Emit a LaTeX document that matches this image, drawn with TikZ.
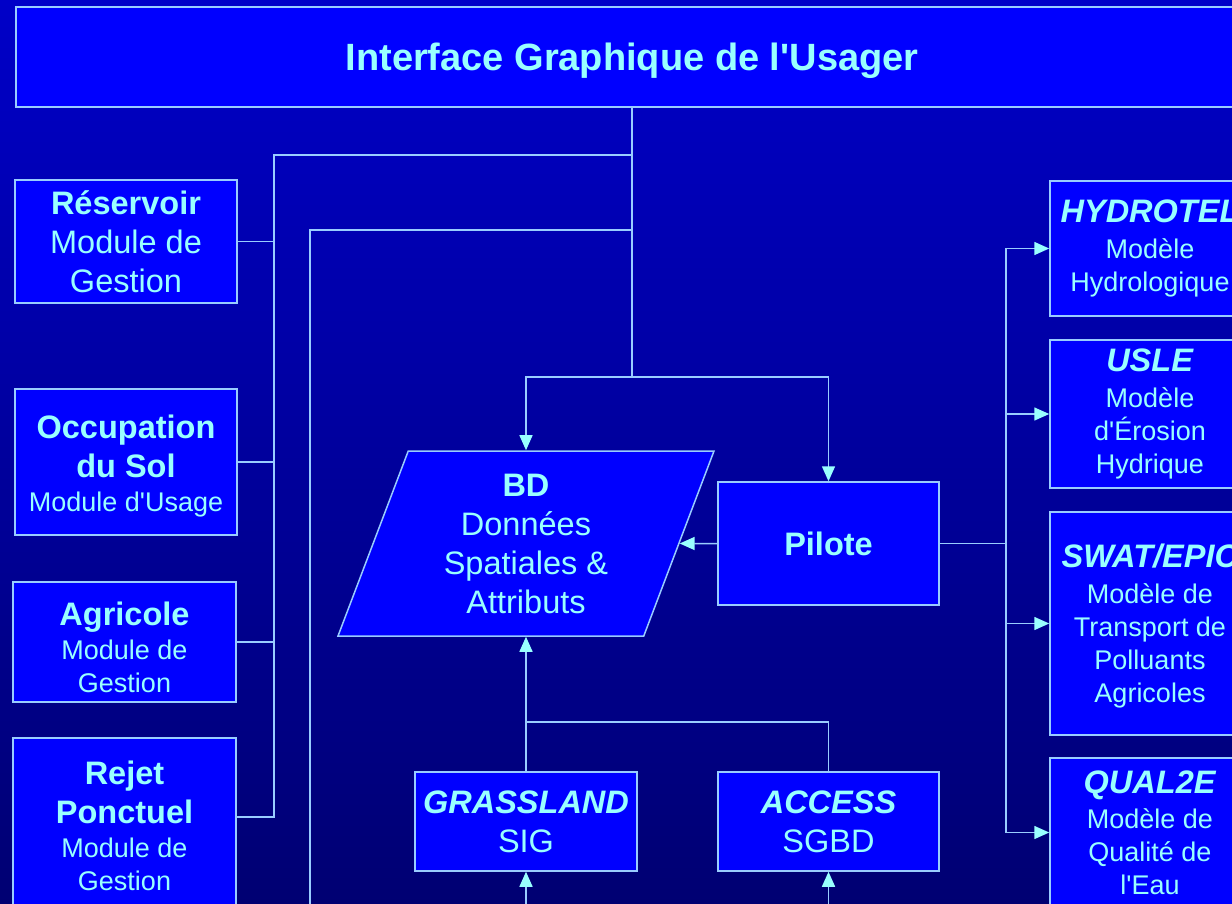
\documentclass[tikz,border=0pt]{standalone}
\usepackage{fontspec}
\setmainfont{Liberation Sans}
\usetikzlibrary{arrows.meta, shapes.geometric}
\definecolor{cbgtop}{HTML}{0000C8}
\definecolor{cbgbot}{HTML}{000072}
\definecolor{cbox}{HTML}{0000FF}
\definecolor{cline}{HTML}{99CCFF}
\definecolor{ccyan}{HTML}{99FFFF}
\newcommand{\ttlsize}{\fontsize{38}{46}\selectfont}
\newcommand{\hdsize}{\fontsize{32.5}{39}\selectfont}
\newcommand{\bdsize}{\fontsize{27}{32.4}\selectfont}
\newcommand{\padtop}[1]{\rule{0pt}{#1}}
\tikzset{
  every picture/.style={x=1pt, y=-1pt, line width=1.5pt},
  box/.style={draw=cline, fill=cbox, text=ccyan, align=center, inner sep=0pt, font=\hdsize},
  link/.style={draw=cline},
  arrow/.style={draw=cline, -{Triangle[length=15pt, width=13pt, color=ccyan]}},
}

\begin{document}
\begin{tikzpicture}
  \useasboundingbox (0,0) rectangle (1232,904);
  \clip (0,0) rectangle (1232,904);
  \shade[top color=cbgtop, bottom color=cbgbot] (0,0) rectangle (1232,904);
  \node[box, minimum width=1232pt, minimum height=100pt, text depth=0pt, font=\ttlsize\bfseries] (gui) at (632,57) {Interface Graphique de l\textquotesingle Usager};
  \node[box, minimum width=222pt, minimum height=123pt] (res) at (126,241.5) {\textbf{Réservoir}\\Module de\\Gestion};
  \node[box, minimum width=222pt, minimum height=146pt] (occ) at (126,462) {\padtop{31.7pt}\textbf{Occupation}\\\textbf{du Sol}\\[-5pt]{\bdsize Module d\textquotesingle Usage}};
  \node[box, minimum width=223pt, minimum height=120pt] (agr) at (124.5,642) {\padtop{35pt}\textbf{Agricole}\\[-5pt]{\bdsize Module de}\\[-6pt]{\bdsize Gestion}};
  \node[box, minimum width=223pt, minimum height=168pt] (rej) at (124.5,822) {\padtop{31.5pt}\textbf{Rejet}\\\textbf{Ponctuel}\\[-5pt]{\bdsize Module de}\\[-6pt]{\bdsize Gestion}};
  \node[box, trapezium, trapezium left angle=63.3, trapezium right angle=116.7, trapezium stretches body, minimum width=376pt, minimum height=185pt] (bd) at (526,543.5) {\textbf{BD}\\Données\\Spatiales \&\\Attributs};
  \node[box, minimum width=221pt, minimum height=123pt] (pil) at (828.5,543.5) {\textbf{Pilote}};
  \node[box, minimum width=222pt, minimum height=99pt] (gra) at (526,821.5) {\textbf{\textit{GRASSLAND}}\\SIG};
  \node[box, minimum width=221pt, minimum height=99pt] (acc) at (828.5,821.5) {\textbf{\textit{ACCESS}}\\SGBD};
  \node[box, minimum width=200pt, minimum height=135pt] (hyd) at (1150,248.5) {\textbf{\textit{HYDROTEL}}\\[-3pt]{\bdsize Modèle}\\[-6pt]{\bdsize Hydrologique}};
  \node[box, minimum width=200pt, minimum height=148pt] (usl) at (1150,414) {\textbf{\textit{USLE}}\\[-3pt]{\bdsize Modèle}\\[-6pt]{\bdsize d\textquotesingle Érosion}\\[-6pt]{\bdsize Hydrique}};
  \node[box, minimum width=200pt, minimum height=223pt] (swa) at (1150,623.5) {\padtop{28pt}\textbf{\textit{SWAT/EPIC}}\\[-3pt]{\bdsize Modèle de}\\[-6pt]{\bdsize Transport de}\\[-6pt]{\bdsize Polluants}\\[-6pt]{\bdsize Agricoles}};
  \node[box, minimum width=200pt, minimum height=149pt] (qua) at (1150,832.5) {\textbf{\textit{QUAL2E}}\\[-4pt]{\bdsize Modèle de}\\[-6pt]{\bdsize Qualité de}\\[-6pt]{\bdsize l\textquotesingle Eau}};
  \coordinate (busL) at (274,155);
  \coordinate (busD) at (310,230);
  \coordinate (split) at (632,377);
  \coordinate (busR) at (1006,543.5);
  \coordinate (merge) at (526,722);
  \coordinate (busDend) at (310,920);
  \coordinate (graIn) at (526,920);
  \coordinate (accIn) at (828.5,920);
  \draw[link] (gui.south) -- (split);
  \draw[link] (gui.south |- busL) -- (busL) |- ([yshift=5pt]rej.east);
  \foreach \n in {res, occ, agr} \draw[link] (\n.east) -- (\n.east -| busL);
  \draw[link] (gui.south |- busD) -- (busD) -- (busDend);
  \draw[arrow] (split) -| (bd.north);
  \draw[arrow] (split) -| (pil.north);
  \draw[arrow] (pil.west) -- (bd.east);
  \draw[link] (pil.east) -- (busR);
  \foreach \n in {hyd, usl, swa, qua} \draw[arrow] (busR) |- (\n.west);
  \draw[arrow] (gra.north) -- (bd.south);
  \draw[link] (acc.north) |- (merge);
  \draw[arrow] (graIn) -- (gra.south);
  \draw[arrow] (accIn) -- (acc.south);
\end{tikzpicture}
\end{document}
